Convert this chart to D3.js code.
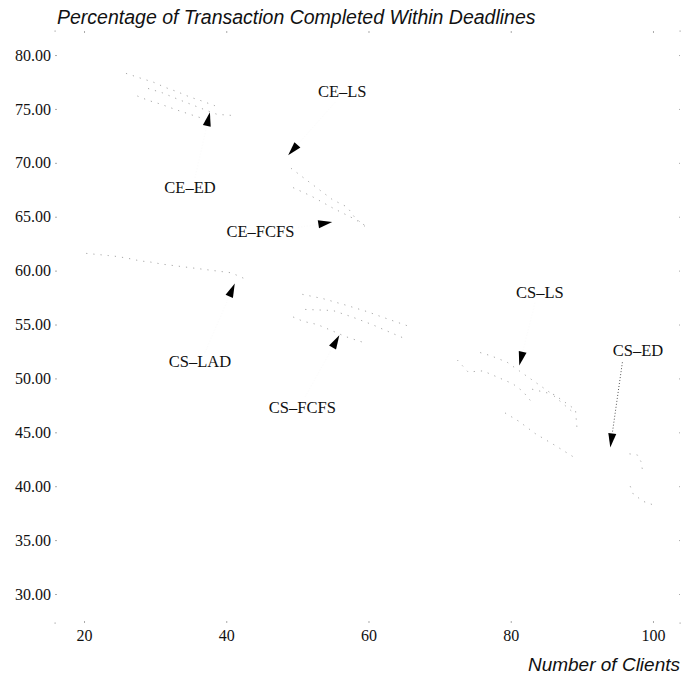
<!DOCTYPE html>
<html>
<head>
<meta charset="utf-8">
<script src="https://cdn.jsdelivr.net/npm/d3@7"></script>
<style>
  html, body { margin: 0; padding: 0; background: #fff; }
  svg { display: block; }
</style>
</head>
<body>
<svg id="chart" width="681" height="676"></svg>
<script>
// Axis ticks
const xTicks = [20, 40, 60, 80, 100];
const yTicks = [30, 35, 40, 45, 50, 55, 60, 65, 70, 75, 80];

// Series: [clients, percentage completed within deadlines]
const ceEd1 = [[25.9, 78.3], [28.2, 77.8], [29.7, 77.5], [31.4, 77.0], [33.1, 76.6], [34.9, 76.1], [36.3, 75.8], [38.4, 75.3]];
const ceEd2 = [[29.0, 76.9], [31.0, 76.5], [33.2, 75.9], [36.3, 75.1], [38.7, 74.5], [40.8, 74.4]];
const ceEd3 = [[27.5, 76.2], [29.0, 75.8], [30.5, 75.5], [31.8, 75.2], [33.5, 74.8], [34.9, 74.5], [36.3, 74.2]];
const ceLs = [[49.1, 69.5], [51.5, 68.3], [53.1, 67.5], [54.9, 66.6], [57.0, 65.9], [58.0, 65.0], [59.5, 64.1]];
const ceFcfs = [[49.4, 67.7], [52.0, 66.9], [55.0, 65.8], [58.0, 64.8], [60.0, 64.0]];
const csLad = [[20.3, 61.6], [23.4, 61.4], [24.8, 61.3], [26.5, 61.1], [27.9, 60.9], [29.3, 60.8], [31.0, 60.6], [40.7, 59.8], [43.1, 59.1]];
const csFcfs1 = [[49.4, 55.7], [50.8, 55.3], [52.8, 55.0], [54.6, 54.5], [56.7, 53.9], [58.5, 53.5], [59.5, 53.3]];
const csFcfs2 = [[50.7, 57.8], [53.6, 57.4], [56.8, 56.8], [59.8, 56.2], [61.9, 55.7], [65.4, 54.9]];
const csFcfs3 = [[51.1, 56.4], [55.0, 56.3], [57.7, 55.7], [60.5, 55.0], [63.3, 54.2], [65.1, 53.7]];
const csLs1 = [[72.5, 51.7], [74.0, 50.6], [76.1, 50.7], [78.9, 49.9], [80.3, 49.5], [81.7, 48.8], [83.2, 47.6]];
const csLs2 = [[75.7, 52.4], [77.2, 52.1], [79.5, 51.5], [81.2, 50.7], [85.5, 48.7], [88.5, 47.0]];
const csLs3 = [[79.2, 46.8], [81.2, 46.0], [83.4, 44.9], [86.2, 43.8], [89.1, 42.6]];
const csLs4 = [[83.0, 49.0], [86.1, 48.5], [89.1, 47.1], [89.3, 45.5]];
const csEd1 = [[96.7, 43.0], [97.8, 42.9], [98.3, 42.3], [98.5, 41.6]];
const csEd2 = [[96.8, 40.0], [97.2, 39.3], [98.6, 38.6], [99.9, 38.3]];

const seriesList = [ceEd1, ceEd2, ceEd3, ceLs, ceFcfs, csLad, csFcfs1, csFcfs2, csFcfs3, csLs1, csLs2, csLs3, csLs4, csEd1, csEd2];

// Curve labels: name, label centre, arrow tail, arrow tip (all in data units)
const labelNames = ["CE\u2013LS", "CE\u2013ED", "CE\u2013FCFS", "CS\u2013LS", "CS\u2013ED", "CS\u2013LAD", "CS\u2013FCFS"];
const labelAt = [[56.3, 76.6], [34.9, 67.7], [44.8, 63.6], [84.1, 57.9], [97.9, 52.5], [36.3, 51.5], [50.7, 47.3]];
const arrowFrom = [[55.3, 75.6], [35.6, 68.6], [50.1, 64.0], [83.4, 57.0], [95.7, 51.5], [37.0, 52.4], [51.1, 48.3]];
const arrowTo = [[48.7, 70.7], [37.7, 74.7], [54.9, 64.5], [81.2, 51.2], [94.0, 43.6], [41.2, 58.8], [55.9, 54.0]];

const svg = d3.select("#chart");
const plotLeft = 55, plotRight = 680, plotTop = 31, plotBottom = 623;

const x = d3.scaleLinear().domain([15.92, 103.8]).range([plotLeft, plotRight]);
const y = d3.scaleLinear().domain([27.31, 82.23]).range([plotBottom, plotTop]);

const serif = "'Liberation Serif', 'Times New Roman', serif";
const sans = "'Liberation Sans', Arial, sans-serif";

// Title and axis caption
svg.append("text")
  .attr("x", 57).attr("y", 24)
  .attr("font-family", sans).attr("font-style", "italic").attr("font-size", 19.5)
  .attr("fill", "#111")
  .text("Percentage of Transaction Completed Within Deadlines");

svg.append("text")
  .attr("x", 680).attr("y", 671)
  .attr("text-anchor", "end")
  .attr("font-family", sans).attr("font-style", "italic").attr("font-size", 19)
  .attr("fill", "#111")
  .text("Number of Clients");

// Axes: faint tick marks with serif labels
const yAxis = d3.axisLeft(y).tickValues(yTicks).tickFormat(d3.format(".2f")).tickSize(2).tickPadding(4);
const xAxis = d3.axisBottom(x).tickValues(xTicks).tickFormat(d3.format("d")).tickSize(2).tickPadding(7);

const gy = svg.append("g").attr("transform", `translate(${plotLeft + 2},0)`).call(yAxis);
const gx = svg.append("g").attr("transform", `translate(0,${plotBottom - 2})`).call(xAxis);
const gyR = svg.append("g").attr("transform", `translate(${plotRight},0)`).call(d3.axisLeft(y).tickValues(yTicks).tickFormat("").tickSize(1));
const gxT = svg.append("g").attr("transform", `translate(0,${plotTop})`).call(d3.axisBottom(x).tickValues(xTicks).tickFormat("").tickSize(2));

[gy, gx, gyR, gxT].forEach(g => {
  g.select(".domain").remove();
  g.selectAll(".tick line").attr("stroke", "#aaa");
  g.selectAll(".tick text")
    .attr("font-family", serif).attr("font-size", 16).attr("fill", "#111");
});

// Corner marks of the frame
const corners = [[plotLeft, plotTop], [plotRight, plotTop], [plotLeft, plotBottom], [plotRight, plotBottom]];
svg.append("g").selectAll("rect").data(corners).join("rect")
  .attr("x", d => d[0] - 0.5).attr("y", d => d[1] - 0.5)
  .attr("width", 1.2).attr("height", 1.2).attr("fill", "#aaa");

// Data curves, drawn as faint sparse dotted polylines
const line = d3.line().x(d => x(d[0])).y(d => y(d[1]));
svg.append("g").selectAll("path").data(seriesList).join("path")
  .attr("d", line)
  .attr("fill", "none")
  .attr("stroke", "#a8a8a8")
  .attr("stroke-width", 1)
  .attr("stroke-dasharray", "1.2,6");

// Label arrows: dotted shaft with a filled head at the tip
const arrows = svg.append("g");
labelNames.forEach((name, i) => {
  const x0 = x(arrowFrom[i][0]), y0 = y(arrowFrom[i][1]);
  const x1 = x(arrowTo[i][0]), y1 = y(arrowTo[i][1]);
  const ang = Math.atan2(y1 - y0, x1 - x0);
  const len = 14, half = 4;
  const bx = x1 - len * Math.cos(ang), by = y1 - len * Math.sin(ang);
  const nx = -Math.sin(ang) * half, ny = Math.cos(ang) * half;

  arrows.append("line")
    .attr("x1", x0).attr("y1", y0).attr("x2", bx).attr("y2", by)
    .attr("stroke", i === 4 ? "#555" : "#fbfbfb")
    .attr("stroke-width", 1)
    .attr("stroke-dasharray", "1,2");

  arrows.append("path")
    .attr("d", `M${x1},${y1}L${bx + nx},${by + ny}L${bx - nx},${by - ny}Z`)
    .attr("fill", "#000");
});

// Curve names
svg.append("g").selectAll("text").data(labelNames).join("text")
  .attr("x", (d, i) => x(labelAt[i][0]))
  .attr("y", (d, i) => y(labelAt[i][1]) + 5)
  .attr("text-anchor", "middle")
  .attr("font-family", serif).attr("font-size", 16.5)
  .attr("fill", "#111")
  .text(d => d);
</script>
</body>
</html>
